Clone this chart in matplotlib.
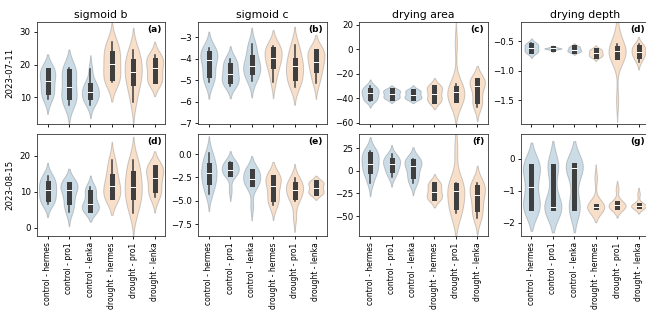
import numpy as np
import pandas as pd
import matplotlib
matplotlib.use("Agg")
import matplotlib.pyplot as plt
import seaborn as sns

groups = ["control - hermes", "control - pro1", "control - lenka",
          "drought - hermes", "drought - pro1", "drought - lenka"]
treatments = ["control", "control", "control", "drought", "drought", "drought"]
dates = ["2023-07-11", "2023-08-15"]
titles = ["sigmoid b", "sigmoid c", "drying area", "drying depth"]
panel_tags = [["(a)", "(b)", "(c)", "(d)"], ["(d)", "(e)", "(f)", "(g)"]]

# estimated per-plant values, one list per group
sigb_0711 = [
    [9.5, 10.8, 11.5, 13.5, 15.0, 16.2, 18.3, 18.5, 18.6],
    [7.7, 9.0, 10.0, 11.5, 13.3, 15.5, 18.0, 18.7, 19.0],
    [7.7, 9.0, 9.8, 10.5, 11.1, 12.0, 13.2, 14.0, 14.5, 18.8],
    [14.6, 15.2, 16.0, 18.5, 20.3, 22.0, 23.6, 25.5, 27.0],
    [8.5, 12.5, 14.5, 16.5, 17.6, 19.5, 21.0, 23.0, 24.6],
    [14.6, 14.9, 15.0, 17.5, 19.0, 20.0, 21.5, 22.2, 22.8],
]
sigc_0711 = [
    [-5.1, -4.9, -4.75, -4.35, -4.07, -3.9, -3.75, -3.6, -3.5],
    [-5.25, -5.15, -5.05, -4.85, -4.7, -4.5, -4.3, -4.1, -4.0],
    [-5.05, -4.8, -4.6, -4.45, -4.35, -4.15, -3.9, -3.5, -3.3],
    [-5.1, -4.6, -4.35, -4.1, -3.95, -3.8, -3.55, -3.45, -3.4],
    [-5.3, -5.05, -4.9, -4.6, -4.35, -4.2, -4.05, -3.6, -3.35],
    [-5.15, -4.8, -4.5, -4.3, -4.15, -3.85, -3.65, -3.65, -3.6],
]
area_0711 = [
    [-42, -40.5, -40, -37, -35.5, -34.5, -33, -31, -30],
    [-40, -39.7, -39.5, -37.5, -36.5, -35, -33.5, -33.2, -33],
    [-40, -40, -40, -38.5, -37, -35.5, -34, -33.5, -33],
    [-42, -42, -42, -38, -36.5, -33, -31, -30.5, -30],
    [-43, -42.5, -42, -38, -35, -34, -32, -31, -28, 5],
    [-47, -44, -42, -35, -30, -27, -25, -25, -25],
]
depth_0711 = [
    [-0.70, -0.68, -0.67, -0.64, -0.61, -0.59, -0.56, -0.54, -0.53],
    [-0.66, -0.64, -0.63, -0.62, -0.62, -0.62, -0.62, -0.62, -0.61, -0.60, -0.59],
    [-0.68, -0.67, -0.67, -0.65, -0.64, -0.62, -0.60, -0.59, -0.58],
    [-0.77, -0.75, -0.74, -0.72, -0.70, -0.68, -0.65, -0.64, -0.63],
    [-1.5, -0.79, -0.78, -0.74, -0.70, -0.67, -0.65, -0.63, -0.58, -0.55, -0.3],
    [-0.85, -0.78, -0.74, -0.70, -0.68, -0.65, -0.60, -0.57, -0.55],
]
sigb_0815 = [
    [6.5, 7.5, 8.0, 9.5, 10.5, 11.5, 12.5, 13.5, 14.5],
    [4.3, 6.0, 7.0, 9.0, 10.5, 11.5, 12.2, 12.4, 12.5],
    [5.0, 5.0, 5.0, 5.8, 6.5, 8.0, 10.0, 10.8, 11.2],
    [8.5, 8.5, 8.5, 10.5, 11.7, 13.0, 14.5, 17.0, 19.0],
    [4.0, 6.5, 8.5, 10.0, 11.3, 13.0, 15.2, 17.0, 19.0],
    [8.5, 9.5, 10.5, 12.5, 13.8, 15.5, 16.8, 16.9, 17.0],
]
sigc_0815 = [
    [-4.3, -3.5, -3.0, -2.5, -2.0, -1.6, -1.2, -0.5, 0.1],
    [-3.9, -2.1, -2.1, -2.1, -1.8, -1.6, -1.3, -1.0, -0.9, -0.8],
    [-5.6, -3.3, -3.25, -3.2, -2.8, -2.5, -2.1, -1.7, -1.7, -1.7],
    [-5.5, -5.0, -4.8, -4.0, -3.4, -2.9, -2.4, -2.4, -2.4],
    [-6.8, -5.0, -4.6, -4.4, -4.0, -3.7, -3.4, -3.2, -2.9, -2.6],
    [-4.2, -4.2, -4.2, -3.9, -3.6, -3.3, -3.0, -3.0, -3.0],
]
area_0815 = [
    [-13, -3, 0, 4, 8, 13, 18, 20, 22],
    [-7, -2, 1, 5, 8, 10, 12, 15, 18],
    [-14, -10, -6, 0, 5, 8, 11, 12, 13],
    [-31, -30.5, -30, -26, -23, -20, -15, -14, -13],
    [-47, -45, -42, -33, -25, -20, -17, -15, -13, 25],
    [-52, -48, -42, -33, -27, -22, -18, -15, -13],
]
depth_0815 = [
    [-1.55, -1.55, -1.55, -1.55, -1.5, -1.2, -0.87, -0.87, -0.5, -0.25, -0.2, -0.2, -0.2, -0.2],
    [-1.55, -1.55, -1.55, -1.55, -1.52, -1.5, -1.5, -1.5, -0.9, -0.25, -0.2, -0.2, -0.2, -0.2],
    [-1.55, -1.55, -1.55, -1.55, -1.5, -0.9, -0.3, -0.28, -0.25, -0.22, -0.2, -0.2, -0.2, -0.2],
    [-1.56, -1.53, -1.51, -1.5, -1.5, -1.49, -1.47, -0.6],
    [-1.58, -1.55, -1.5, -1.47, -1.45, -1.38, -1.36, -0.95],
    [-1.52, -1.5, -1.48, -1.47, -1.46, -1.45, -1.1],
]

panels = [[sigb_0711, sigc_0711, area_0711, depth_0711],
          [sigb_0815, sigc_0815, area_0815, depth_0815]]
ylims = [[(1.9, 33.0), (-7.03, -2.29), (-60.8, 22.4), (-1.9, -0.17)],
         [(-2.4, 26.1), (-8.8, 2.15), (-72, 40.4), (-2.42, 0.77)]]
yticks = [[[10, 20, 30], [-7, -6, -5, -4, -3], [-60, -40, -20, 0, 20], [-1.5, -1.0, -0.5]],
          [[0, 10, 20], [-7.5, -5.0, -2.5, 0.0], [-50, -25, 0, 25], [-2, -1, 0]]]

fig, axes = plt.subplots(2, 4, figsize=(6.46, 3.23), dpi=100, sharex=True)
fig.subplots_adjust(left=0.057, right=1.005, top=0.932, bottom=0.269,
                    wspace=0.255, hspace=0.1)

palette = {"control": "#1f77b4", "drought": "#ff7f0e"}

for r in range(2):
    for c in range(4):
        ax = axes[r, c]
        rows = []
        for g, t, vals in zip(groups, treatments, panels[r][c]):
            for v in vals:
                rows.append((g, t, v))
        df = pd.DataFrame(rows, columns=["group", "treatment", "value"])
        sns.violinplot(data=df, x="group", y="value", hue="treatment",
                       order=groups, palette=palette, inner="box",
                       density_norm="count", linewidth=0.7, alpha=0.25,
                       inner_kws=dict(box_width=3.6, whis_width=1.1, marker="_",
                                      markersize=4),
                       legend=False, ax=ax)
        ax.set_ylim(*ylims[r][c])
        ax.set_yticks(yticks[r][c])
        ax.set_xlabel("")
        ax.set_ylabel("")
        ax.tick_params(labelsize=5.5, length=2.5, width=0.6, pad=2)
        ax.tick_params(axis="y", labelsize=6.2)
        for s in ax.spines.values():
            s.set_linewidth(0.6)
            s.set_color("#333333")
        ax.text(0.97, 0.97, panel_tags[r][c], transform=ax.transAxes,
                ha="right", va="top", fontsize=6.5, fontweight="bold")
        if r == 0:
            ax.set_title(titles[c], fontsize=7.8, pad=3)
        else:
            ax.tick_params(axis="x", labelrotation=90)
        if c == 0:
            ax.set_ylabel(dates[r], fontsize=6.2)

fig.savefig("out.png", dpi=100)
